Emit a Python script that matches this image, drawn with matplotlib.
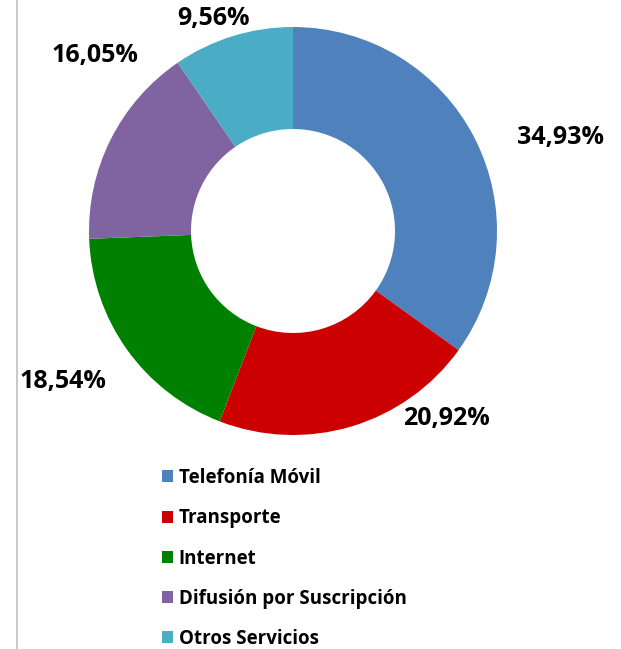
import matplotlib
matplotlib.use("Agg")
import matplotlib.pyplot as plt
from matplotlib.lines import Line2D
from matplotlib.patches import Patch

categories = ["Telefonía Móvil", "Transporte", "Internet", "Difusión por Suscripción", "Otros Servicios"]
values = [34.93, 20.92, 18.54, 16.05, 9.56]
labels = ["34,93%", "20,92%", "18,54%", "16,05%", "9,56%"]
colors = ["#4F81BD", "#CC0000", "#008000", "#8064A2", "#4BACC6"]
# label positions (in units of outer radius)
label_pos = [(1.31, 0.46), (0.75, -0.92), (-1.13, -0.74), (-0.97, 0.86), (-0.39, 1.04)]

W, H = 621, 649
fig = plt.figure(figsize=(W / 100, H / 100), dpi=100)
cx, cy, R = 293, 231, 204
ax = fig.add_axes([(cx - R) / W, (H - cy - R) / H, 2 * R / W, 2 * R / H])
wedges, _ = ax.pie(values, colors=colors, startangle=90, counterclock=False,
                   radius=1.0, wedgeprops=dict(width=0.5, linewidth=0))
ax.set_xlim(-1, 1)
ax.set_ylim(-1, 1)
ax.set_aspect("equal")
ax.axis("off")

font = ["Open Sans", "DejaVu Sans"]
for (x, y), t in zip(label_pos, labels):
    ax.text(x, y, t, ha="center", va="center", fontsize=18, fontweight="bold",
            family=font, color="#000000", clip_on=False)

handles = [Patch(facecolor=c, edgecolor="none") for c in colors]
leg = fig.legend(handles, categories, loc="upper left",
                 bbox_to_anchor=(162 / W, 1 - 468 / H), frameon=False,
                 prop=dict(family=font, weight="bold", size=13.5),
                 handlelength=0.6, handleheight=0.6, handletextpad=0.3,
                 labelspacing=1.08, borderpad=0, borderaxespad=0)

fig.add_artist(Line2D([16.5 / W, 16.5 / W], [0, 1], color="#BFBFBF", lw=1.2,
                      transform=fig.transFigure))

fig.savefig("out.png", dpi=100, facecolor="white")
